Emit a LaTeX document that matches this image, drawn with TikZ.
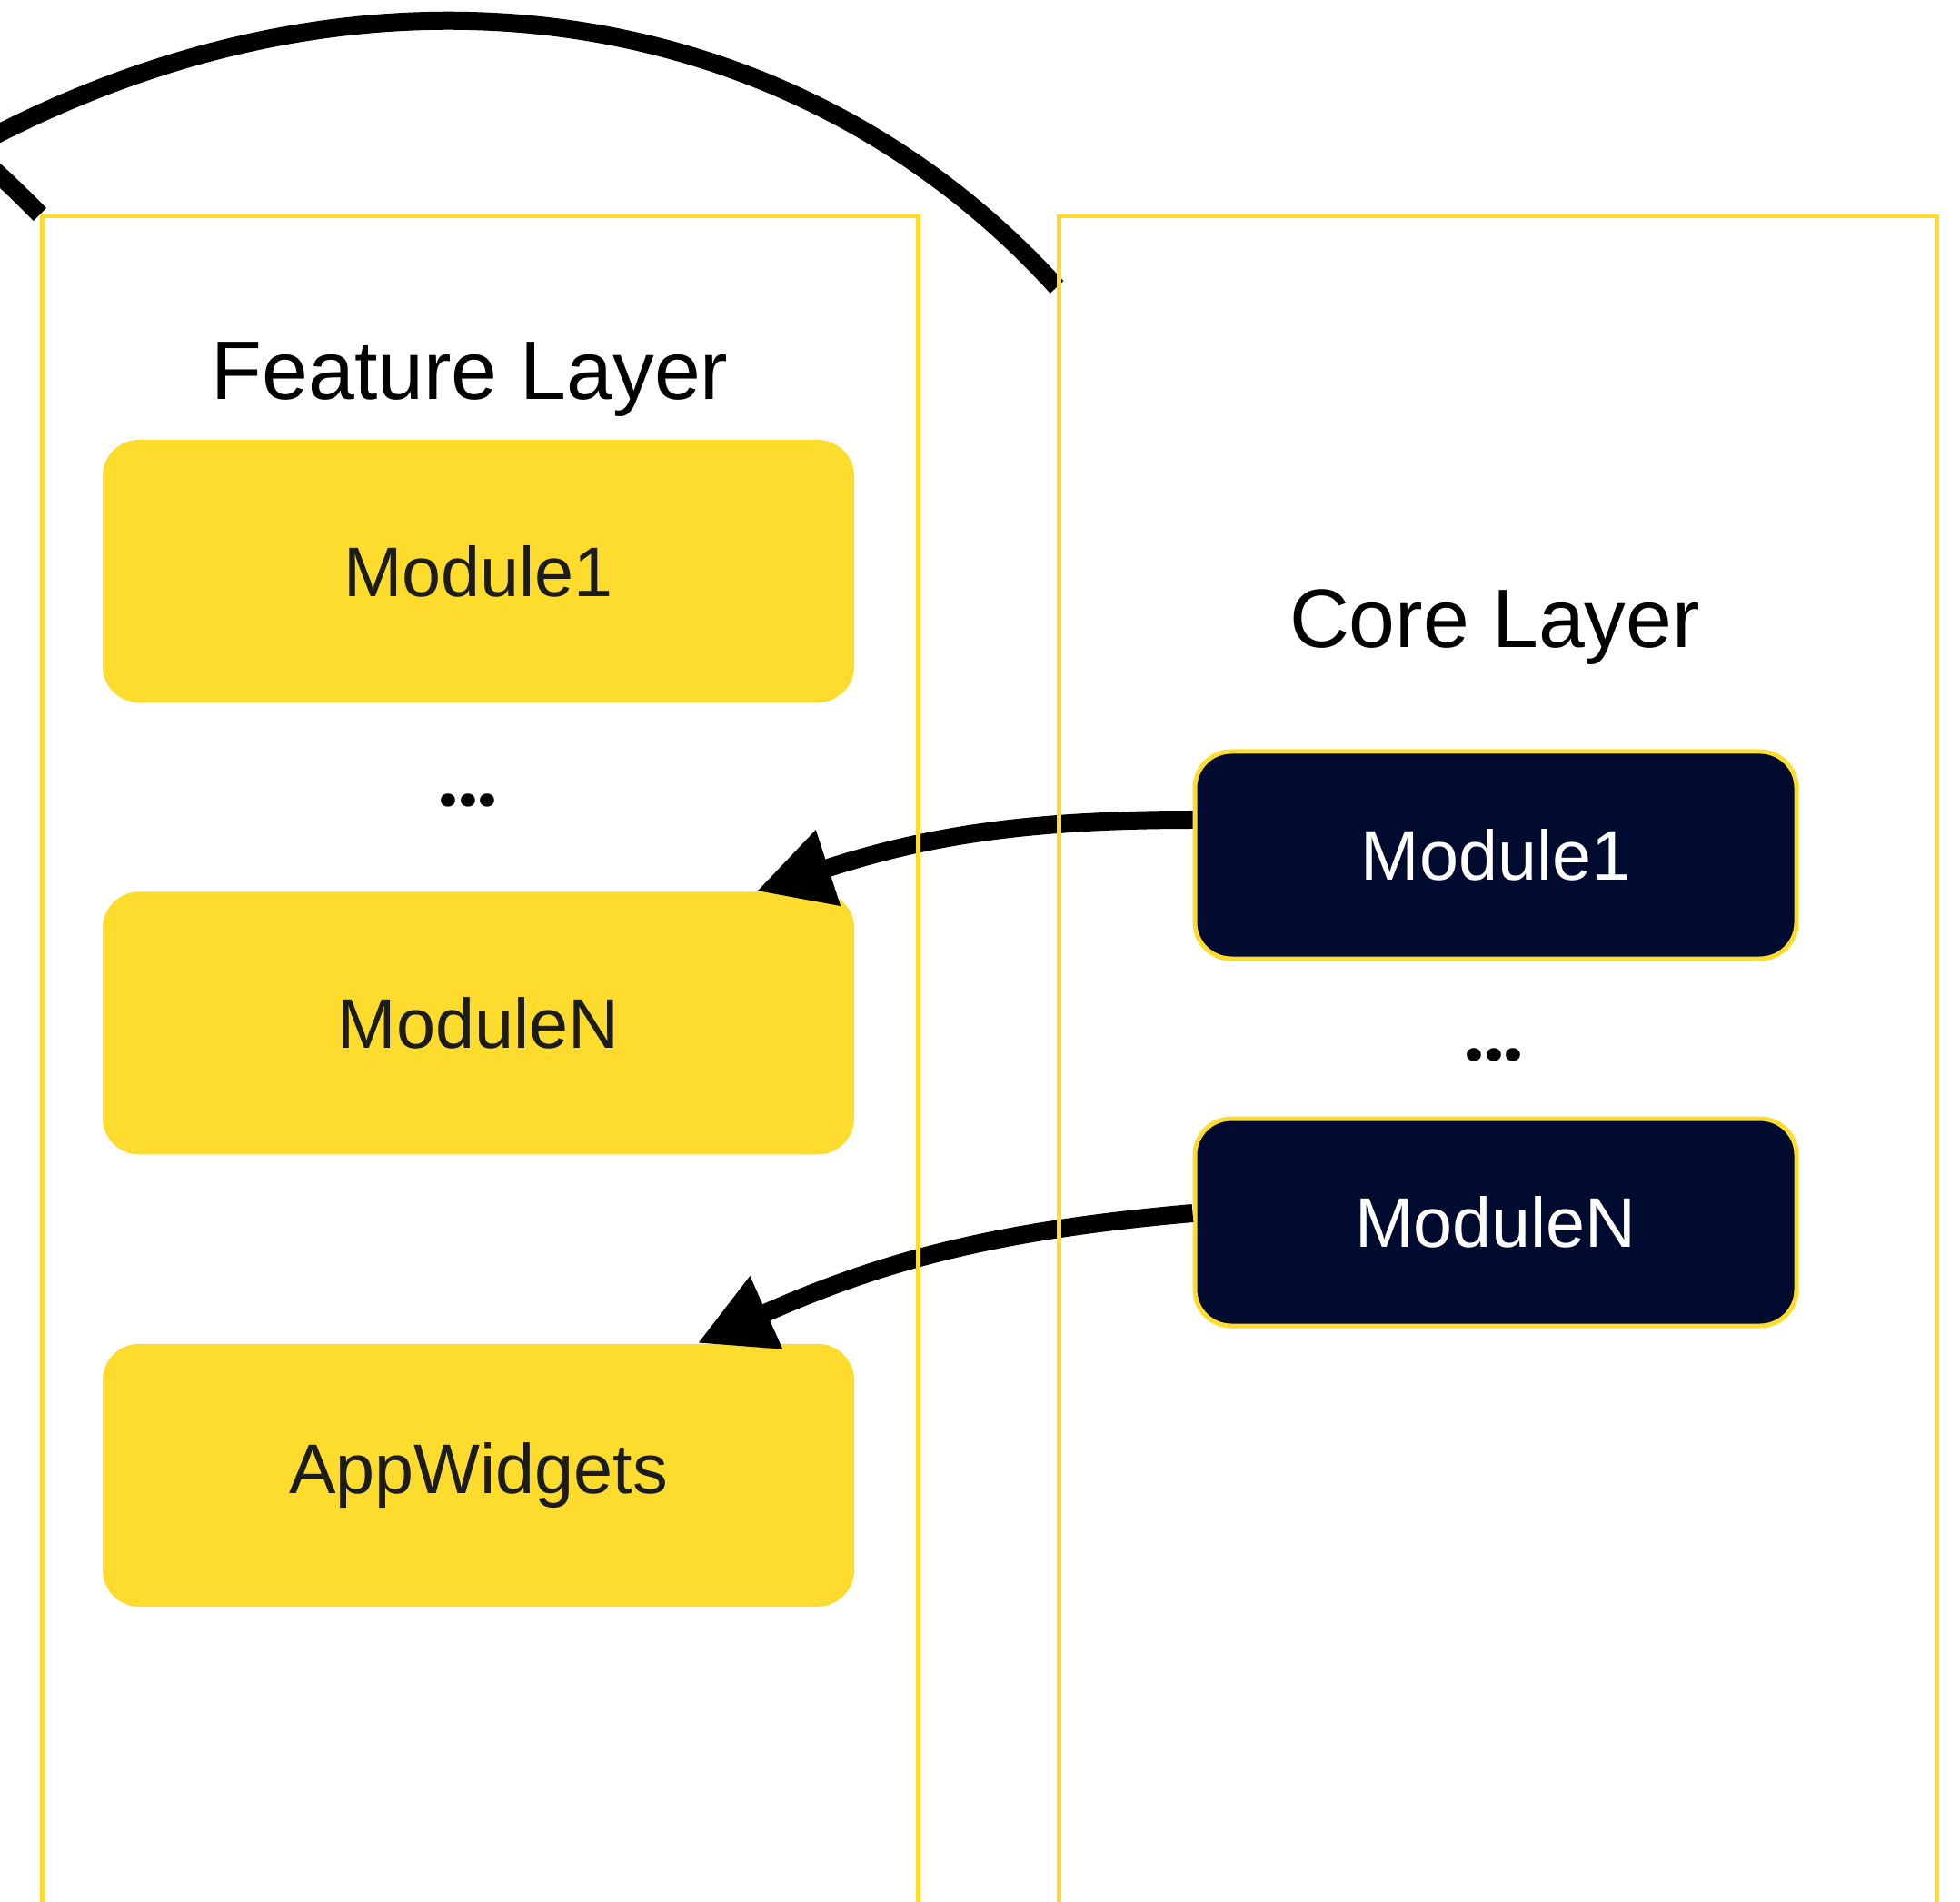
\documentclass[tikz,border=0pt]{standalone}
\usepackage{fontspec}
\setmainfont{Liberation Sans}
\newfontfamily\dotfont{Poppins}
\usetikzlibrary{arrows.meta, positioning}
\definecolor{layeryellow}{HTML}{FDDC2E}
\definecolor{corenavy}{HTML}{010A2F}
\definecolor{modtext}{HTML}{1C1C1C}
\pgfdeclarelayer{front}
\pgfsetlayers{main,front}

\begin{document}
\begin{tikzpicture}[
    layer/.style={rectangle, draw=layeryellow, line width=0.045cm, minimum width=9.64cm, minimum height=22cm, anchor=north west},
    title/.style={anchor=base, font=\fontsize{26}{30}\selectfont},
    feature/.style={rectangle, rounded corners=0.4cm, minimum width=8.27cm, minimum height=2.89cm, fill=layeryellow, text=modtext, font=\fontsize{22}{26}\selectfont},
    core/.style={rectangle, rounded corners=0.4cm, minimum width=6.62cm, minimum height=2.28cm, draw=layeryellow, line width=0.05cm, fill=corenavy, text=white, font=\fontsize{22}{26}\selectfont},
    dots/.style={anchor=base, font=\dotfont\fontsize{22}{26}\selectfont\bfseries},
    link/.style={line width=0.2cm},
    arrow/.style={line width=0.2cm, -{Triangle[length=0.83cm, width=0.82cm]}}
]
\useasboundingbox (0,0) rectangle (21.57,20.92);
\clip (0,0) rectangle (21.57,20.92);

% Layers
\begin{pgfonlayer}{front}
\node (featframe) [layer] at (0.44,18.56) {};
\node (coreframe) [layer, minimum width=9.66cm] at (11.63,18.56) {};
\end{pgfonlayer}
\node (feattitle) [title] at (5.17,16.52) {Feature Layer};
\node (coretitle) [title] at (16.45,13.79) {Core Layer};

% Nodes
\node (fm1) [feature] at (5.265,14.635) {Module1};
\node (fdots) [dots] at (5.15,12.04) {...};
\node (fmN) [feature, below=2.07cm of fm1] {ModuleN};
\node (fapp) [feature, below=2.07cm of fmN] {AppWidgets};

\node (cm1) [core] at (16.46,11.51) {Module1};
\node (cdots) [dots] at (16.44,9.25) {...};
\node (cmN) [core, below=1.71cm of cm1] {ModuleN};

% Connections
\coordinate (farleft) at (-2.00,18.22);
\coordinate (farleftb) at (-1.00,19.72);
\draw [link] (farleft) .. controls (3.00,21.92) and (8.50,21.22) .. ([yshift=-0.80cm]coreframe.north west);
\draw [link] (farleftb) to[out=-30, in=135] (featframe.north west);
\draw [arrow] ([yshift=0.39cm]cm1.west) to[out=180, in=18] ([xshift=3.06cm]fmN.north);
\draw [arrow] ([yshift=0.10cm]cmN.west) to[out=185, in=24] ([xshift=2.41cm]fapp.north);

\end{tikzpicture}
\end{document}
